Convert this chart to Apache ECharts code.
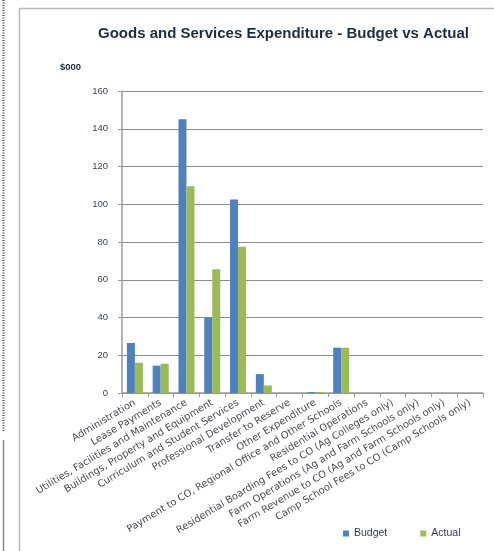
<!DOCTYPE html>
<html>
<head>
<meta charset="utf-8">
<script src="https://cdn.jsdelivr.net/npm/echarts@6/dist/echarts.min.js"></script>
<style>
  html, body { margin: 0; padding: 0; background: #ffffff; }
  #chart { width: 494px; height: 551px; }
</style>
</head>
<body>
<div id="chart"></div>
<script>
// Expenditure categories and values ($000)
const categories = [
  'Administration',
  'Lease Payments',
  'Utilities, Facilities and Maintenance',
  'Buildings, Property and Equipment',
  'Curriculum and Student Services',
  'Professional Development',
  'Transfer to Reserve',
  'Other Expenditure',
  'Payment to CO, Regional Office and Other Schools',
  'Residential Operations',
  'Residential Boarding Fees to CO (Ag Colleges only)',
  'Farm Operations (Ag and Farm Schools only)',
  'Farm Revenue to CO (Ag and Farm Schools only)',
  'Camp School Fees to CO (Camp Schools only)'
];
const budget = [26.5, 14.5, 145, 40, 102.5, 10, 0, 0.5, 24, 0, 0, 0, 0, 0];
const actual = [16, 15.5, 109.5, 65.5, 77.5, 4, 0, 0.5, 24, 0, 0, 0, 0, 0];
const yTicks = [0, 20, 40, 60, 80, 100, 120, 140, 160];

const chart = echarts.init(document.getElementById('chart'), null, { renderer: 'canvas' });

chart.setOption({
  backgroundColor: '#ffffff',
  animation: false,
  title: {
    text: 'Goods and Services Expenditure - Budget vs Actual',
    left: 93,
    top: 21,
    textStyle: { fontFamily: 'Liberation Sans', fontSize: 15, fontWeight: 'bold', color: '#1f2a44' }
  },
  legend: {
    data: ['Budget', 'Actual'],
    left: 338,
    bottom: 7,
    itemWidth: 6,
    itemHeight: 6,
    itemGap: 33,
    icon: 'rect',
    textStyle: { fontFamily: 'Liberation Sans', fontSize: 10.5, color: '#333a5a' }
  },
  graphic: [
    // outer chart frame
    { type: 'rect', shape: { x: 19.5, y: 8.5, width: 480, height: 560 },
      style: { fill: 'none', stroke: '#b8b8b8', lineWidth: 1.5 } },
    // dotted left margin
    { type: 'line', shape: { x1: 3.5, y1: 0, x2: 3.5, y2: 432 },
      style: { stroke: '#444', lineWidth: 2, lineDash: [1, 1.5] } },
    { type: 'line', shape: { x1: 3.5, y1: 440, x2: 3.5, y2: 551 },
      style: { stroke: '#888', lineWidth: 1.5 } },
    // units caption
    { type: 'text', left: 60, top: 62,
      style: { text: '$000', fontFamily: 'Liberation Sans', fontSize: 9.5, fontWeight: 'bold', fill: '#1f2a44' } }
  ],
  grid: { left: 122, right: 11, top: 91, bottom: 158, containLabel: false },
  xAxis: {
    type: 'category',
    data: categories,
    boundaryGap: true,
    axisLine: { lineStyle: { color: '#9a9a9a', width: 1.5 } },
    axisTick: { show: true, alignWithLabel: false, length: 4, lineStyle: { color: '#9a9a9a' } },
    axisLabel: {
      interval: 0,
      rotate: 31,
      margin: 9,
      fontFamily: 'DejaVu Sans',
      fontSize: 9.9,
      color: '#4a4a55'
    }
  },
  yAxis: {
    type: 'value',
    min: yTicks[0],
    max: yTicks[yTicks.length - 1],
    interval: 20,
    axisLine: { show: true, lineStyle: { color: '#9a9a9a', width: 1.5 } },
    axisTick: { show: true, length: 4, lineStyle: { color: '#9a9a9a' } },
    splitLine: { lineStyle: { color: '#8c8c8c', width: 1 } },
    axisLabel: { fontFamily: 'Liberation Sans', fontSize: 9.5, color: '#3a3f5a', margin: 14 }
  },
  series: [
    { name: 'Budget', type: 'bar', data: budget, barWidth: 8, barGap: '0%',
      itemStyle: { color: '#4f81bd' } },
    { name: 'Actual', type: 'bar', data: actual, barWidth: 8,
      itemStyle: { color: '#9bbb59' } }
  ]
});
</script>
</body>
</html>
